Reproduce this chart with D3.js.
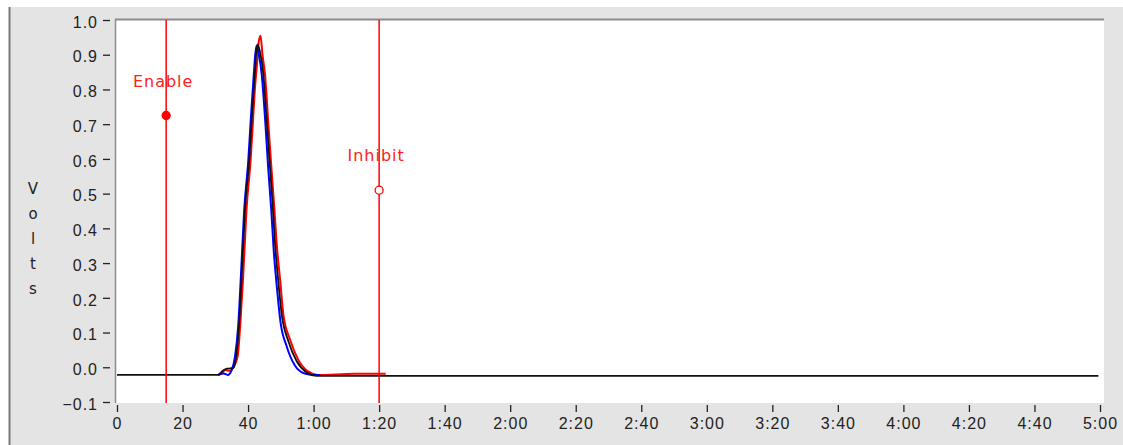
<!DOCTYPE html>
<html>
<head>
<meta charset="utf-8">
<script src="https://cdn.jsdelivr.net/npm/d3@7"></script>
<style>
  body { margin: 0; background: #fff; }
  svg { display: block; font-family: "DejaVu Sans", sans-serif; }
  .tick text { fill: #222; font-size: 16px; letter-spacing: 1px; }
  .tick line { stroke: #222; stroke-width: 1.3; }
</style>
</head>
<body>
<svg id="chart" width="1123" height="445"></svg>
<script>
// ── Data ──────────────────────────────────────────────────────────────────────

const xTicks = [0, 20, 40, 60, 80, 100, 120, 140, 160, 180, 200, 220, 240, 260, 280, 300];
const yTicks = [-0.1, 0, 0.1, 0.2, 0.3, 0.4, 0.5, 0.6, 0.7, 0.8, 0.9, 1.0];

// seconds / volts
const redT   = [30.8, 32.0, 33.0, 34.5, 35.5, 36.8, 37.6, 38.5, 39.5, 40.8, 41.5, 42.0, 42.6, 43.3, 43.8, 44.4, 45.2, 46.2, 47.0, 48.0, 48.7, 49.8, 50.8, 52.8, 55.3, 58.3, 61.3, 72.5, 82.0];
const redV   = [-0.022, -0.018, -0.008, -0.010, 0.0, 0.03, 0.12, 0.26, 0.45, 0.60, 0.71, 0.79, 0.86, 0.94, 0.955, 0.90, 0.84, 0.70, 0.59, 0.46, 0.36, 0.25, 0.15, 0.08, 0.022, -0.012, -0.022, -0.019, -0.019];

const blueT  = [30.8, 32.5, 33.8, 35.0, 36.0, 37.0, 37.8, 38.8, 40.1, 40.8, 41.3, 41.8, 42.5, 43.3, 44.2, 45.3, 46.1, 47.1, 47.8, 48.8, 49.9, 51.8, 54.3, 57.3, 60.0, 62.0];
const blueV  = [-0.022, -0.018, -0.022, -0.008, 0.03, 0.12, 0.26, 0.45, 0.60, 0.71, 0.78, 0.85, 0.925, 0.90, 0.84, 0.70, 0.58, 0.45, 0.34, 0.23, 0.13, 0.06, 0.005, -0.018, -0.022, -0.022];

const blackT = [0, 30.8, 32.3, 33.5, 35.5, 36.5, 37.3, 38.1, 39.1, 40.4, 41.1, 41.6, 42.1, 42.8, 43.6, 44.6, 45.7, 46.5, 47.5, 48.2, 49.2, 50.3, 52.3, 54.8, 57.9, 60.9, 299.5];
const blackV = [-0.022, -0.022, -0.010, -0.004, -0.002, 0.04, 0.13, 0.27, 0.46, 0.60, 0.71, 0.78, 0.85, 0.93, 0.91, 0.85, 0.71, 0.60, 0.47, 0.36, 0.25, 0.15, 0.075, 0.018, -0.015, -0.025, -0.025];

// cursors
const cursorNames  = ['Enable', 'Inhibit'];
const cursorTimes  = [15, 80];
const cursorVolts  = [0.725, 0.51];
const cursorFilled = [true, false];

// ── Scales ────────────────────────────────────────────────────────────────────

const svg = d3.select('#chart');
const x = d3.scaleLinear().domain([0, 300]).range([117, 1100]);
const y = d3.scaleLinear().domain([-0.1, 1.0]).range([402, 20]);

const fmtTime = s => s < 60 ? String(s) : `${Math.floor(s / 60)}:${String(s % 60).padStart(2, '0')}`;

// ── Panel ─────────────────────────────────────────────────────────────────────

svg.append('rect').attr('x', 9).attr('y', 7).attr('width', 1114).attr('height', 438).attr('fill', '#e4e4e4');
svg.append('line').attr('x1', 9.5).attr('x2', 9.5).attr('y1', 7).attr('y2', 445)
  .attr('stroke', '#7a7a7a').attr('stroke-width', 2);

// plot area
svg.append('rect').attr('x', 115).attr('y', 19).attr('width', 989).attr('height', 384).attr('fill', '#fff');
svg.append('line').attr('x1', 115).attr('x2', 1104).attr('y1', 19.5).attr('y2', 19.5)
  .attr('stroke', '#8c8c8c').attr('stroke-width', 2);
svg.append('line').attr('x1', 115.5).attr('x2', 115.5).attr('y1', 19).attr('y2', 403)
  .attr('stroke', '#8c8c8c').attr('stroke-width', 1.5);

// ── Axes ──────────────────────────────────────────────────────────────────────

const yAxis = svg.append('g').attr('transform', 'translate(110,0)')
  .call(d3.axisLeft(y).tickValues(yTicks).tickSize(7).tickPadding(5).tickFormat(d3.format('.1f')));
yAxis.select('.domain').remove();
yAxis.selectAll('.tick text').attr('dy', '0.45em');

const xAxis = svg.append('g').attr('transform', 'translate(0,405)')
  .call(d3.axisBottom(x).tickValues(xTicks).tickSize(7).tickPadding(6).tickFormat(fmtTime));
xAxis.select('.domain').remove();

// "Volts" stacked vertically
const volts = ['V', 'o', 'l', 't', 's'];
svg.append('g').selectAll('text').data(volts).join('text')
  .attr('x', 33).attr('y', (d, i) => 194 + i * 25)
  .attr('text-anchor', 'middle')
  .attr('font-size', 15).attr('fill', '#222')
  .text(d => d);

// ── Traces ────────────────────────────────────────────────────────────────────

const line = d3.line().curve(d3.curveMonotoneX).x(d => x(d[0])).y(d => y(d[1]));
const plot = svg.append('g');

function trace(ts, vs, color, width) {
  plot.append('path')
    .datum(ts.map((t, i) => [t, vs[i]]))
    .attr('d', line)
    .attr('fill', 'none')
    .attr('stroke', color)
    .attr('stroke-width', width)
    .attr('stroke-linejoin', 'round');
}

trace(redT, redV, '#ff0000', 2);
trace(blueT, blueV, '#0000ff', 2);
trace(blackT, blackV, '#111', 1.8);

// ── Cursors ───────────────────────────────────────────────────────────────────

cursorNames.forEach((name, i) => {
  const cx = x(cursorTimes[i]);
  const cy = y(cursorVolts[i]);
  plot.append('line')
    .attr('x1', cx).attr('x2', cx).attr('y1', 20).attr('y2', 403)
    .attr('stroke', '#ff0000').attr('stroke-width', 1.5);
  plot.append('text')
    .attr('x', cx - 3).attr('y', cy - 29)
    .attr('text-anchor', 'middle')
    .attr('font-size', 16).attr('letter-spacing', 1)
    .attr('fill', '#ff2020')
    .text(name);
  plot.append('circle')
    .attr('cx', cx).attr('cy', cy).attr('r', 4)
    .attr('fill', cursorFilled[i] ? '#ff0000' : '#fff')
    .attr('stroke', '#ff0000').attr('stroke-width', 1.3);
});
</script>
</body>
</html>
